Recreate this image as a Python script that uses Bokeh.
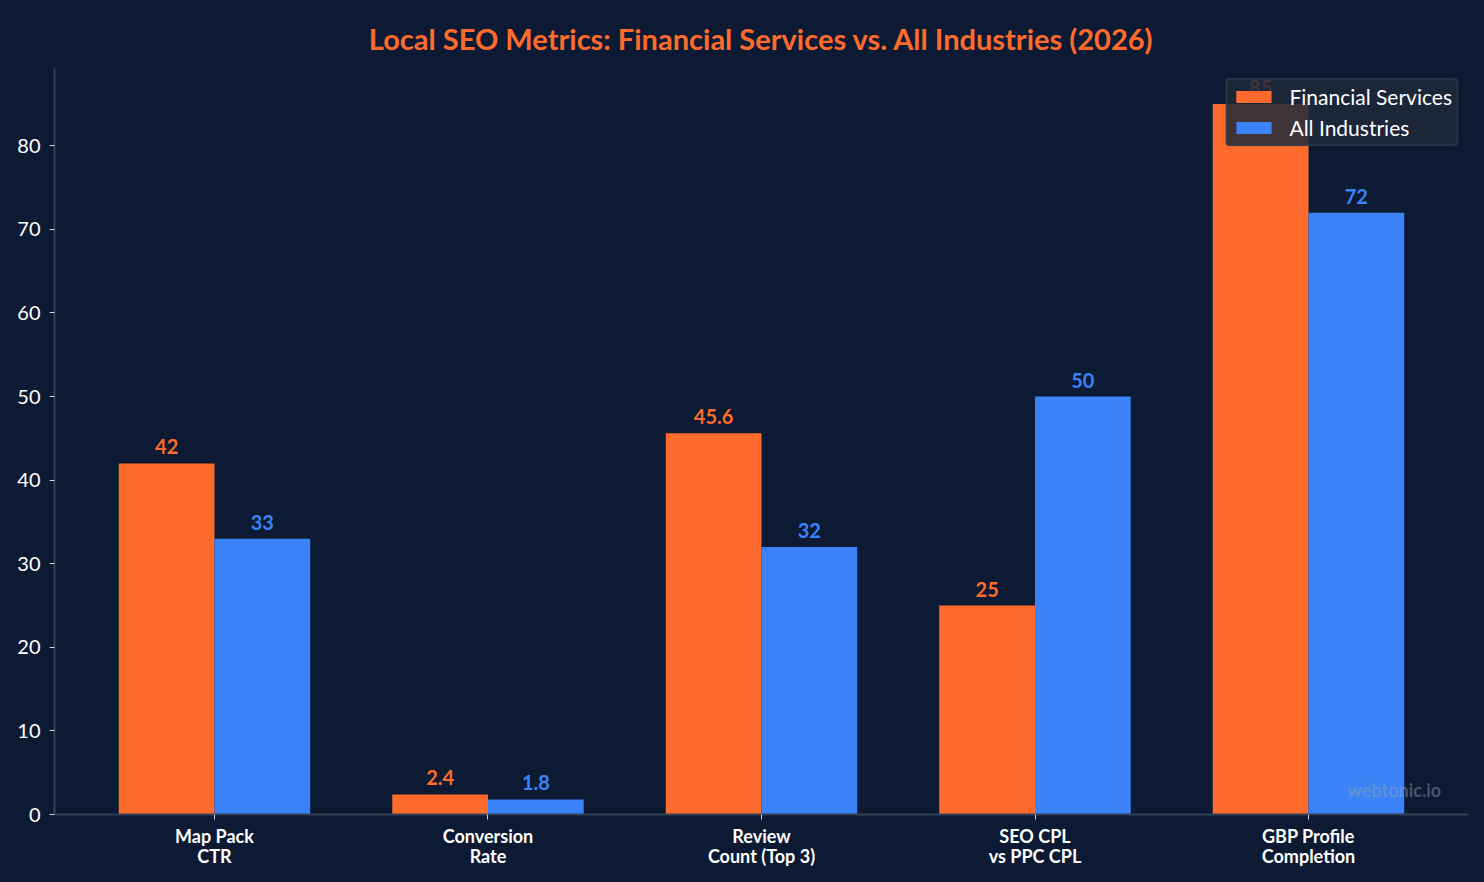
from bokeh.plotting import figure
from bokeh.models import ColumnDataSource, FixedTicker, Label, Legend, LegendItem
from bokeh.embed import file_html
from bokeh.resources import INLINE

title_text = "Local SEO Metrics: Financial Services vs. All Industries (2026)"
categories = ["Map Pack\nCTR", "Conversion\nRate", "Review\nCount (Top 3)", "SEO CPL\nvs PPC CPL", "GBP Profile\nCompletion"]
financial = [42, 2.4, 45.6, 25, 85]
all_industries = [33, 1.8, 32, 50, 72]
fin_labels = ["42", "2.4", "45.6", "25", "85"]
all_labels = ["33", "1.8", "32", "50", "72"]
y_ticks = [0, 10, 20, 30, 40, 50, 60, 70, 80]

BG = "#0c1a33"
ORANGE = "#ff6b2c"
BLUE = "#3b82f6"
FONT = "Lato"
bar_w = 0.35

idx = list(range(len(categories)))
fin_src = ColumnDataSource(dict(x=[i - bar_w / 2 for i in idx], top=financial, label=fin_labels))
all_src = ColumnDataSource(dict(x=[i + bar_w / 2 for i in idx], top=all_industries, label=all_labels))

ymax = max(financial + all_industries) * 1.05
pad = (len(categories) - 1 + 2 * bar_w) * 0.05
x_lo, x_hi = -bar_w - pad, len(categories) - 1 + bar_w + pad

p = figure(
    width=1484, height=882,
    x_range=(x_lo, x_hi),
    y_range=(0, ymax),
    output_backend="svg", toolbar_location=None,
    background_fill_color=BG, background_fill_alpha=0, border_fill_color=BG,
    min_border_left=54, min_border_right=16, min_border_bottom=68, min_border_top=68,
)
p.styles = {"background-color": BG}
p.outline_line_color = None
p.grid.visible = False

p.title.text = title_text
p.title.align = "center"
p.title.vertical_align = "top"
p.title.text_color = ORANGE
p.title.text_font = FONT
p.title.text_font_size = "29px"
p.title.text_font_style = "bold"
p.title.standoff = 21

r_fin = p.vbar(x="x", top="top", width=bar_w, source=fin_src, fill_color=ORANGE, line_color=None)
r_all = p.vbar(x="x", top="top", width=bar_w, source=all_src, fill_color=BLUE, line_color=None)

for src, color in ((fin_src, ORANGE), (all_src, BLUE)):
    p.text(x="x", y="top", text="label", source=src, text_align="center", text_baseline="bottom",
           y_offset=-9, text_color=color, text_font_size="20px", text_font_style="bold",
           text_font={"value": FONT})

# axes
p.xaxis.ticker = FixedTicker(ticks=idx)
p.xaxis.major_label_overrides = {i: c for i, c in enumerate(categories)}
p.yaxis.ticker = FixedTicker(ticks=y_ticks)
for ax in (p.xaxis, p.yaxis):
    ax.axis_line_color = "#334155"
    ax.axis_line_width = 2
    ax.major_tick_line_color = "#cbd5e1"
    ax.major_tick_out = 5
    ax.major_tick_in = 0
    ax.minor_tick_line_color = None
    ax.major_label_text_color = "#ffffff"
    ax.major_label_text_font = FONT
p.yaxis.major_label_text_font_size = "20px"
p.yaxis.major_label_standoff = 9
p.xaxis.major_label_text_font_size = "18px"
p.xaxis.major_label_text_font_style = "bold"
p.xaxis.major_label_text_line_height = 0.95
p.xaxis.major_label_standoff = 5

# watermark
p.add_layout(Label(x=x_hi - 0.1, y=ymax * 0.033, text="webtonic.io",
                   text_align="right", text_baseline="middle", text_color="#94a3b8", text_alpha=0.45,
                   text_font=FONT, text_font_size="18px", text_font_style="bold"))

legend = Legend(
    items=[LegendItem(label="Financial Services", renderers=[r_fin]),
           LegendItem(label="All Industries", renderers=[r_all])],
    location="top_right",
    background_fill_color="#1e293b", background_fill_alpha=0.85,
    border_line_color="#334155", border_line_width=2, border_radius=4,
    label_text_color="#ffffff", label_text_font=FONT, label_text_font_size="21px",
    glyph_width=44, glyph_height=15, label_standoff=14, spacing=6, padding=4, margin=10,
)
p.add_layout(legend)

open("out.html", "w").write(file_html(p, INLINE))
